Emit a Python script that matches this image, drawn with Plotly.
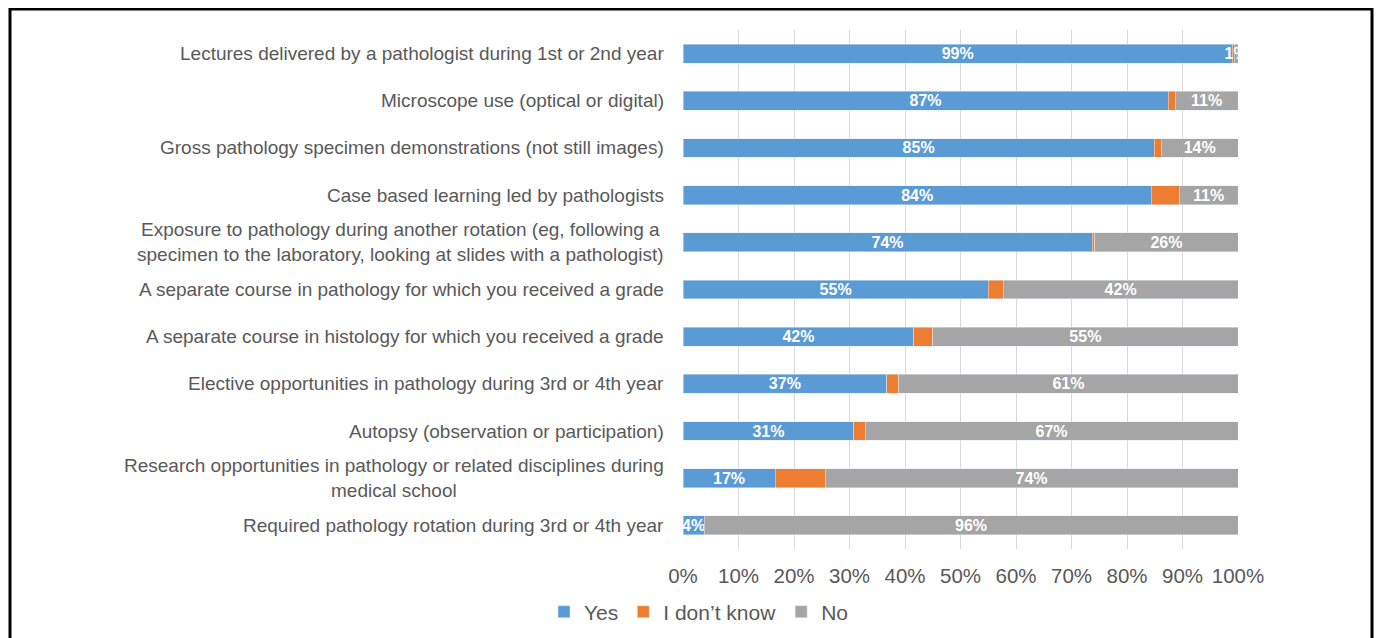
import plotly.graph_objects as go

categories = [
    "Lectures delivered by a pathologist during 1st or 2nd year",
    "Microscope use (optical or digital)",
    "Gross pathology specimen demonstrations (not still images)",
    "Case based learning led by pathologists",
    "Exposure to pathology during another rotation (eg, following a<br>specimen to the laboratory, looking at slides with a pathologist)",
    "A separate course in pathology for which you received a grade",
    "A separate course in histology for which you received a grade",
    "Elective opportunities in pathology during 3rd or 4th year",
    "Autopsy (observation or participation)",
    "Research opportunities in pathology or related disciplines during<br>medical school",
    "Required pathology rotation during 3rd or 4th year",
]
yes = [99.0, 87.4, 84.9, 84.4, 73.7, 55.0, 41.6, 36.7, 30.8, 16.6, 3.8]
dont_know = [0.3, 1.3, 1.3, 5.0, 0.5, 2.7, 3.4, 2.2, 2.0, 9.0, 0.0]
no = [0.7, 11.3, 13.8, 10.6, 25.8, 42.3, 55.0, 61.1, 67.2, 74.4, 96.2]

OFF = 8  # default page body margin
W, H = 1382 - OFF, 638 - OFF
L, R, T, B = 683 - OFF, 1238 - OFF, 30 - OFF, 549 - OFF
FONT = "Liberation Sans, Arial"

fig = go.Figure()
label_font = dict(color="white", size=16, family=FONT)
fig.add_trace(go.Bar(name="Yes", y=categories, x=yes, orientation="h",
                     marker_color="#5B9BD5", texttemplate="<b>%{x:.0f}%</b>",
                     textposition="inside", insidetextanchor="middle", textangle=0,
                     constraintext="none", textfont=label_font))
fig.add_trace(go.Bar(name="I don\u2019t know", y=categories, x=dont_know, orientation="h",
                     marker_color="#ED7D31", texttemplate="", textposition="none"))
fig.add_trace(go.Bar(name="No", y=categories, x=no, orientation="h",
                     marker_color="#A5A5A5", texttemplate="<b>%{x:.0f}%</b>",
                     textposition="inside", insidetextanchor="middle", textangle=0,
                     constraintext="none", textfont=label_font))

for c in categories:
    fig.add_annotation(x=0, xref="paper", y=c, yref="y", text=c, showarrow=False,
                       xanchor="right", xshift=-17, align="center",
                       font=dict(size=19, color="#595959", family=FONT))

def px_x(p):
    return (p - OFF - L) / (R - L)

def px_y(p):
    return (B - (p - OFF)) / (B - T)

fig.add_shape(type="rect", xref="paper", yref="paper",
              x0=px_x(10), x1=px_x(1372), y0=px_y(680), y1=px_y(9),
              line=dict(color="black", width=3), fillcolor="rgba(0,0,0,0)", layer="above")

fig.update_layout(
    barmode="stack",
    bargap=0.6,
    width=W, height=H,
    margin=dict(l=L, r=W - R, t=T, b=H - B, autoexpand=False),
    plot_bgcolor="white", paper_bgcolor="white",
    uniformtext=dict(mode="show", minsize=16),
    font=dict(family=FONT, color="#595959"),
    legend=dict(orientation="h", x=px_x(699), xanchor="center", y=px_y(612), yanchor="middle",
                font=dict(size=21, color="#595959"), traceorder="normal"),
    xaxis=dict(range=[0, 100], dtick=10, ticksuffix="%", showgrid=True,
               gridcolor="#D9D9D9", gridwidth=1, zeroline=False, showline=False,
               tickfont=dict(size=20.5, color="#595959"), ticks="",
               ticklabelstandoff=12, fixedrange=True, automargin=False),
    yaxis=dict(autorange="reversed", showticklabels=False, showgrid=False,
               zeroline=False, showline=False, ticks="", automargin=False),
)

fig.write_html("out.html")
